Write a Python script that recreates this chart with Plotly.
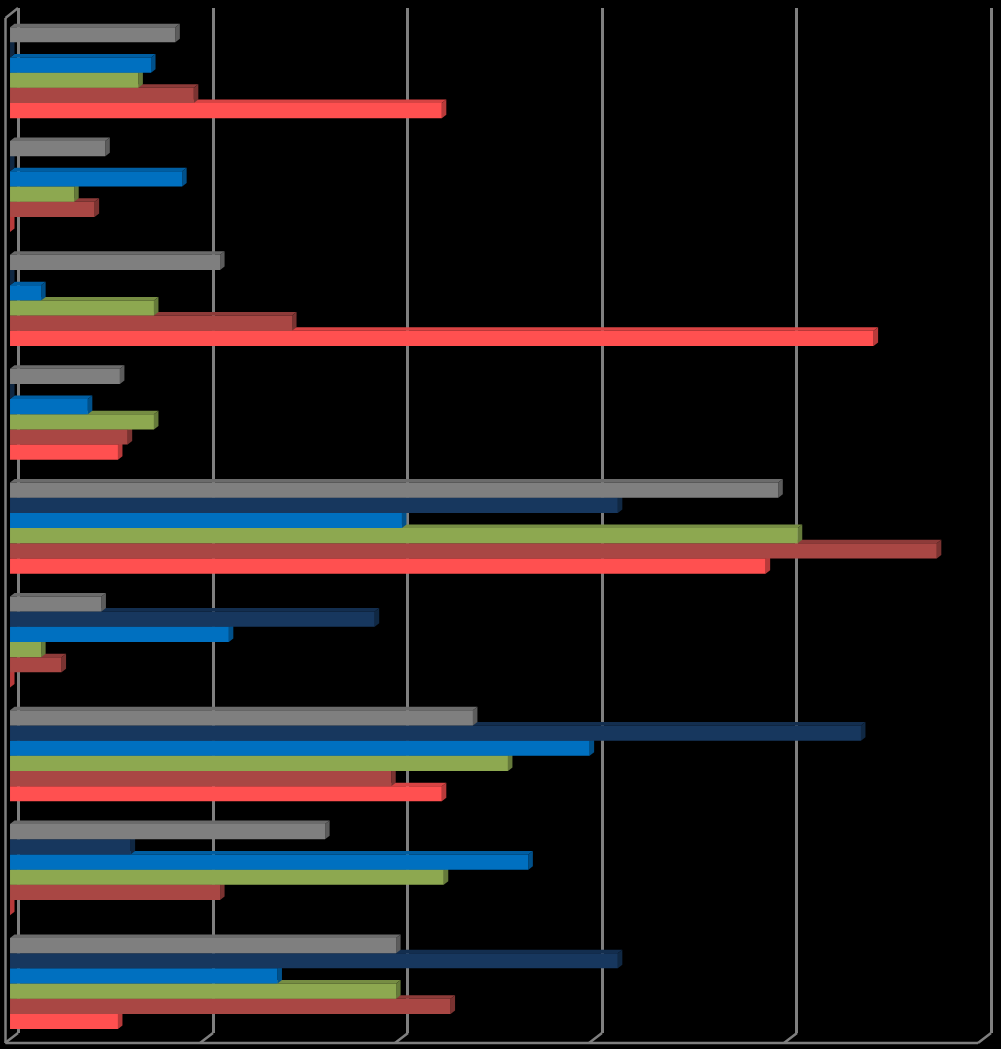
import plotly.graph_objects as go

# groups listed bottom to top, as the bar chart stacks them
categories = ["1", "2", "3", "4", "5", "6", "7", "8", "9"]

red = [11.1, 0, 44.4, 0, 77.7, 11.1, 88.8, 0, 44.4]
brown = [45.3, 21.6, 39.2, 5.3, 95.3, 12.1, 29.0, 8.7, 18.9]
green = [39.7, 44.6, 51.2, 3.2, 81.0, 14.8, 14.8, 6.6, 13.2]
blue = [27.5, 53.3, 59.6, 22.5, 40.3, 8.0, 3.2, 17.7, 14.5]
navy = [62.5, 12.4, 87.5, 37.5, 62.5, 0, 0, 0, 0]
gray = [39.7, 32.4, 47.6, 9.4, 79.0, 11.3, 21.6, 9.8, 17.0]

series = [red, brown, green, blue, navy, gray]
front_colors = ["#FF5050", "#A94744", "#8DA850", "#0070C0", "#17375E", "#7F7F7F"]
top_colors = ["#D84343", "#8E3B39", "#768D43", "#005EA2", "#132E4F", "#6B6B6B"]
side_colors = ["#B83A3A", "#7A3331", "#657A3A", "#00508A", "#102843", "#5C5C5C"]

W, H = 1001, 1049
TOP, BOTTOM = 8, 1033
X_RANGE = [-1.03, 101.9]
Y_RANGE = [-0.4346, 8.568]
BAR_H = 0.8 / 6
DEPTH_X = 4.5 * (X_RANGE[1] - X_RANGE[0]) / W
DEPTH_Y = 3.5 * (Y_RANGE[1] - Y_RANGE[0]) / (BOTTOM - TOP)
GRAY = "#7F7F7F"

fig = go.Figure()

for s, values in enumerate(series):
    fig.add_trace(go.Bar(x=values, y=categories, orientation="h",
                         marker=dict(color=front_colors[s], line_width=0)))

# top and side faces of each bar, lower series first
for s, values in enumerate(series):
    for i, v in enumerate(values):
        y0 = i - 0.4 + s * BAR_H
        y1 = y0 + BAR_H
        top = f"M 0,{y1} L {DEPTH_X},{y1 + DEPTH_Y} L {v + DEPTH_X},{y1 + DEPTH_Y} L {v},{y1} Z"
        side = f"M {v},{y0} L {v + DEPTH_X},{y0 + DEPTH_Y} L {v + DEPTH_X},{y1 + DEPTH_Y} L {v},{y1} Z"
        fig.add_shape(type="path", path=top, xref="x", yref="y", layer="between",
                      fillcolor=top_colors[s], line_width=0)
        fig.add_shape(type="path", path=side, xref="x", yref="y", layer="between",
                      fillcolor=side_colors[s], line_width=0)


def frame_line(x0, y0, x1, y1):
    fig.add_shape(type="line", xref="paper", yref="paper",
                  x0=x0 / W, y0=(BOTTOM - y0) / (BOTTOM - TOP),
                  x1=x1 / W, y1=(BOTTOM - y1) / (BOTTOM - TOP),
                  line=dict(color=GRAY, width=2.5), layer="below")


# front of the 3D box
frame_line(5.5, 18, 18, 8)
frame_line(5.5, 18, 5.5, 1043)
frame_line(5.5, 1043, 978, 1043)
for gx in [18, 213, 408, 602, 797, 991]:
    frame_line(gx, 1033, gx - 13, 1043)

fig.update_layout(
    width=W, height=H,
    margin=dict(l=0, r=0, t=TOP, b=H - BOTTOM, pad=0),
    barmode="group", bargap=0.2, bargroupgap=0,
    showlegend=False,
    paper_bgcolor="black", plot_bgcolor="black",
    xaxis=dict(range=X_RANGE, showgrid=True, gridcolor=GRAY, gridwidth=2.5,
               tick0=0.9, dtick=20, zeroline=False, showticklabels=False, ticks=""),
    yaxis=dict(range=Y_RANGE, type="category", categoryorder="array", categoryarray=categories,
               showgrid=False, zeroline=False, showticklabels=False, ticks=""),
)

fig.write_html("out.html", config=dict(displayModeBar=False),
               post_script="document.body.style.margin='0';")
